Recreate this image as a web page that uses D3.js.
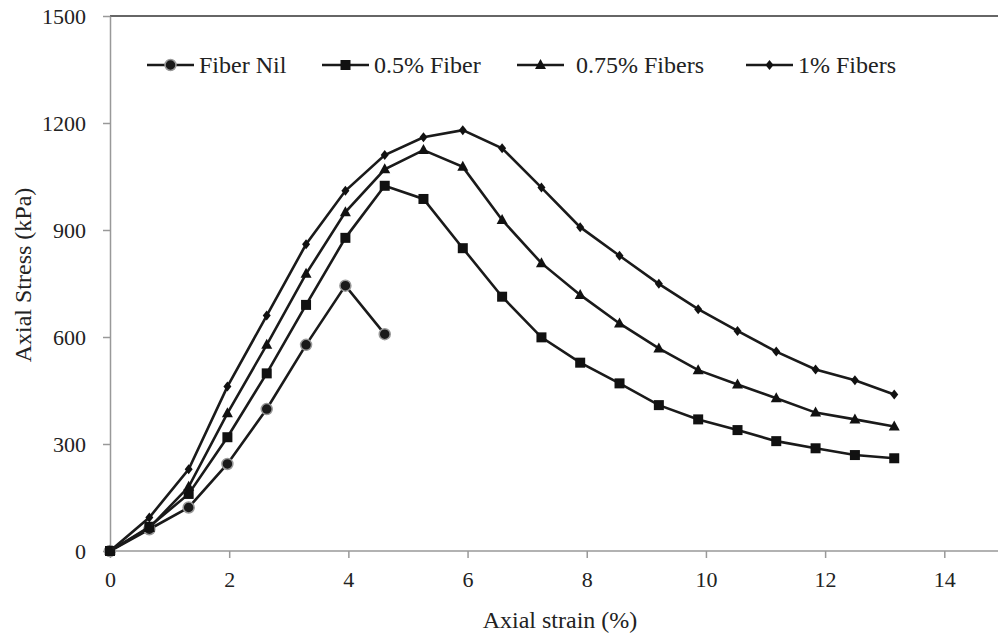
<!DOCTYPE html>
<html>
<head>
<meta charset="utf-8">
<script src="https://cdn.jsdelivr.net/npm/d3@7"></script>
<style>
  body { margin: 0; background: #fff; }
  svg text { font-family: "Liberation Serif", "DejaVu Serif", serif; }
</style>
</head>
<body>
<div id="chart"></div>
<script>
// axial strain (%) readings, shared by all tests
let strain = [0, 0.66, 1.32, 1.97, 2.63, 3.29, 3.95, 4.61, 5.26, 5.92, 6.58,
  7.24, 7.89, 8.55, 9.21, 9.87, 10.53, 11.18, 11.84, 12.5, 13.16]

let fiberNil = [0, 61, 122, 244, 398, 578, 744, 608]
let fiber050 = [0, 68, 160, 319, 498, 690, 878, 1024, 987, 849, 713,
  599, 528, 470, 409, 369, 339, 308, 288, 269, 260]
let fiber075 = [0, 65, 180, 386, 578, 777, 950, 1070, 1124, 1077, 928,
  807, 718, 638, 568, 507, 467, 428, 388, 369, 349]
let fiber100 = [0, 94, 229, 461, 660, 860, 1010, 1110, 1160, 1180, 1129,
  1019, 908, 828, 749, 678, 617, 559, 509, 479, 439]

let seriesNames = ['Fiber Nil', '0.5% Fiber', '0.75% Fibers', '1% Fibers']
let seriesMarkers = ['circle', 'square', 'triangle', 'diamond']
let xTicks = [0, 2, 4, 6, 8, 10, 12, 14]
let yTicks = [0, 300, 600, 900, 1200, 1500]

let width = 998
let height = 638
let margin = { top: 16, left: 110, right: 0, bottom: 87 }

let svg = d3
  .select('#chart')
  .append('svg')
  .attr('width', width)
  .attr('height', height)

let x = d3.scaleLinear().domain([0, 14]).range([margin.left, 944.3])
let y = d3.scaleLinear().domain([0, 1500]).range([height - margin.bottom, margin.top])

let series = [fiberNil, fiber050, fiber075, fiber100].map((vals, i) => ({
  name: seriesNames[i],
  marker: seriesMarkers[i],
  points: vals.map((v, j) => [strain[j], v])
}))

// top border of the plot area
svg.append('line')
  .attr('x1', margin.left).attr('x2', width)
  .attr('y1', y(1500)).attr('y2', y(1500))
  .attr('stroke', '#333').attr('stroke-width', 1.5)

// x axis
let xAxis = svg.append('g')
  .attr('transform', 'translate(0,' + y(0) + ')')
  .call(d3.axisBottom(x).tickValues(xTicks).tickFormat(d3.format('d'))
    .tickSize(7).tickPadding(13).tickSizeOuter(0))
xAxis.attr('font-family', null)
xAxis.select('.domain').attr('d', 'M' + margin.left + ',0H' + width)
xAxis.selectAll('.domain, .tick line').attr('stroke', '#999').attr('stroke-width', 1.5)
xAxis.selectAll('text').attr('font-size', 22).attr('fill', '#222')

// y axis
let yAxis = svg.append('g')
  .attr('transform', 'translate(' + margin.left + ',0)')
  .call(d3.axisLeft(y).tickValues(yTicks).tickFormat(d3.format('d'))
    .tickSize(7).tickPadding(17).tickSizeOuter(0))
yAxis.attr('font-family', null)
yAxis.selectAll('.domain, .tick line').attr('stroke', '#999').attr('stroke-width', 1.5)
yAxis.selectAll('text').attr('font-size', 22).attr('fill', '#222')

// axis titles
svg.append('text')
  .attr('x', 560).attr('y', 628)
  .attr('text-anchor', 'middle')
  .attr('font-size', 24).attr('fill', '#222')
  .text('Axial strain (%)')

svg.append('text')
  .attr('transform', 'translate(31,275) rotate(-90)')
  .attr('text-anchor', 'middle')
  .attr('font-size', 24).attr('fill', '#222')
  .text('Axial Stress (kPa)')

function drawMarker(g, type) {
  if (type === 'circle') {
    g.append('circle').attr('r', 5.5)
      .attr('fill', '#1a1a1a').attr('stroke', '#999').attr('stroke-width', 1.5)
  } else if (type === 'square') {
    g.append('rect').attr('x', -5).attr('y', -5).attr('width', 10).attr('height', 10)
      .attr('fill', '#111')
  } else if (type === 'triangle') {
    g.append('path').attr('d', 'M0,-6L5.5,4L-5.5,4Z').attr('fill', '#111')
  } else {
    g.append('path').attr('d', 'M0,-5L4,0L0,5L-4,0Z').attr('fill', '#111')
  }
}

let line = d3.line().x(d => x(d[0])).y(d => y(d[1]))

series.forEach(s => {
  svg.append('path')
    .datum(s.points)
    .attr('d', line)
    .attr('fill', 'none')
    .attr('stroke', '#1a1a1a')
    .attr('stroke-width', 2.6)

  svg.selectAll('.m-' + s.marker)
    .data(s.points)
    .enter()
    .append('g')
    .attr('class', 'm-' + s.marker)
    .attr('transform', d => 'translate(' + x(d[0]) + ',' + y(d[1]) + ')')
    .each(function () { drawMarker(d3.select(this), s.marker) })
})

// legend
let legendX = [147, 322, 517, 746]
let legend = svg.selectAll('.legend')
  .data(series)
  .enter()
  .append('g')
  .attr('class', 'legend')
  .attr('transform', (d, i) => 'translate(' + legendX[i] + ',65)')

legend.append('line')
  .attr('x1', 0).attr('x2', 47)
  .attr('stroke', '#1a1a1a').attr('stroke-width', 2.6)

legend.append('g')
  .attr('transform', 'translate(23.5,0)')
  .each(function (d) { drawMarker(d3.select(this), d.marker) })

legend.append('text')
  .attr('x', (d, i) => i === 2 ? 59 : 52)
  .attr('y', 8)
  .attr('font-size', 24).attr('fill', '#222')
  .text(d => d.name)
</script>
</body>
</html>
